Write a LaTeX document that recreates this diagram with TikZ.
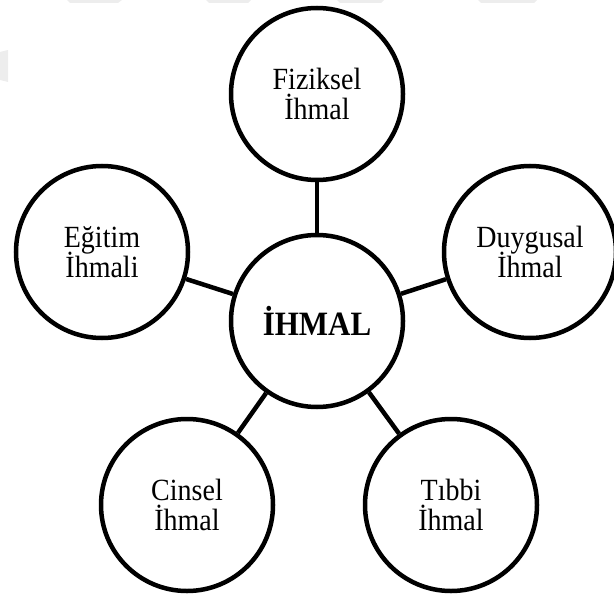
\documentclass[tikz,border=0pt]{standalone}
\usepackage{fontspec}
\usepackage{graphicx}
\setmainfont{Liberation Serif}

% text in the reference is set a little taller than wide
\newcommand{\tall}[1]{\scalebox{1}[1.1]{#1}}

\begin{document}
\begin{tikzpicture}[x=1bp, y=-1bp,
    bubble/.style={circle, draw, line width=4.5bp, minimum size=172bp,
        inner sep=0pt, align=center,
        font=\fontsize{28bp}{30bp}\selectfont,
        execute at begin node={\lineskiplimit=-50bp\relax}},
    hub/.style={bubble, font=\fontsize{31bp}{34bp}\selectfont\bfseries},
    spoke/.style={line width=4.5bp}]

    % --- Canvas ---
    \useasboundingbox (0,0) rectangle (614,598);

    % --- Faint marks along the top and left edges ---
    \fill[black!7] (67,0) -- (122,0) -- (118,3) -- (70,3) -- cycle;
    \fill[black!7] (206,0) -- (251,0) -- (248,3) -- (209,3) -- cycle;
    \fill[black!7] (337,0) -- (384,0) -- (381,3) -- (340,3) -- cycle;
    \fill[black!7] (478,0) -- (537,0) -- (534,3) -- (481,3) -- cycle;
    \fill[black!7] (0,52) -- (8,50) -- (8,82) -- (0,80) -- cycle;

    % --- Nodes ---
    \node[hub] (ihmal) at (317,321) {\tall{İHMAL}};
    \node[bubble] (fiziksel) at (317,94) {\tall{Fiziksel} \\ \tall{İhmal}};
    \node[bubble] (egitim) at (102,252) {\tall{Eğitim} \\ \tall{İhmali}};
    \node[bubble] (duygusal) at (530,252) {\tall{Duygusal} \\ \tall{İhmal}};
    \node[bubble] (cinsel) at (187,505) {\tall{Cinsel} \\ \tall{İhmal}};
    \node[bubble] (tibbi) at (451,505) {\tall{Tıbbi} \\ \tall{İhmal}};

    % --- Spokes ---
    % Each outer circle is tied to the hub
    \foreach \leaf in {fiziksel, egitim, duygusal, cinsel, tibbi}
        \draw[spoke] (ihmal) -- (\leaf);

\end{tikzpicture}
\end{document}
